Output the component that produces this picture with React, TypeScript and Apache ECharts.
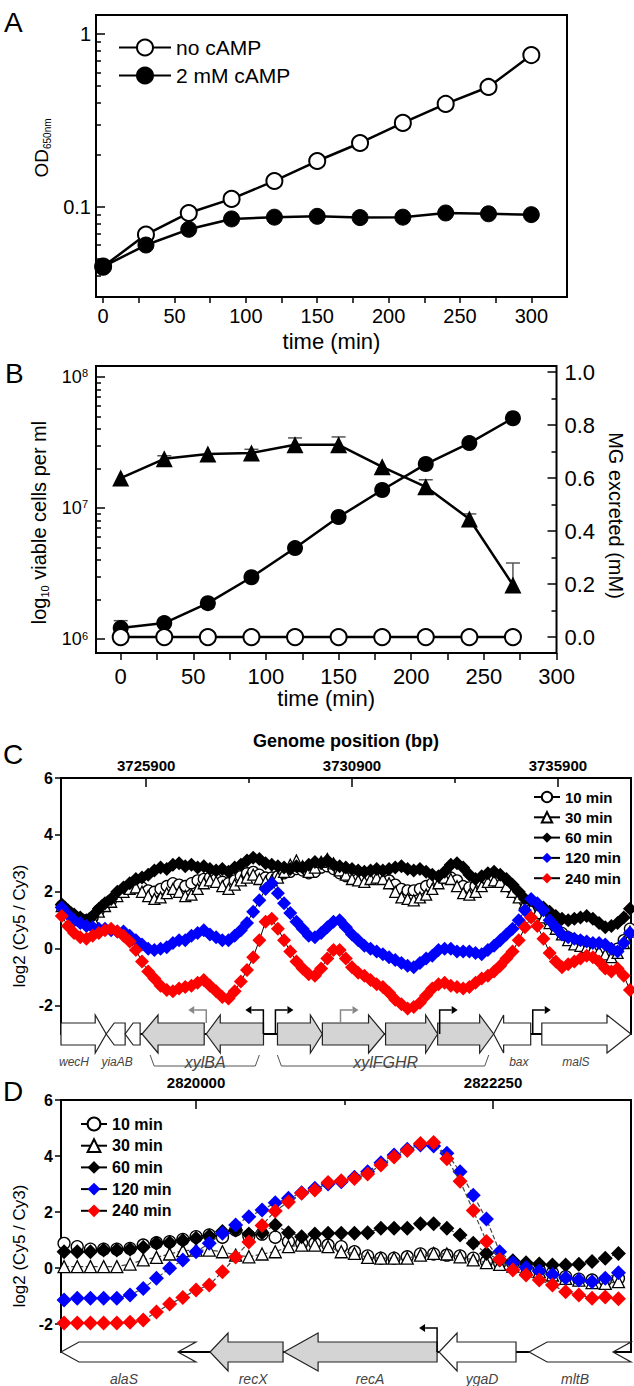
import { useEffect, useRef } from 'react';
import * as echarts from 'echarts';

const FONT = '"Liberation Sans", Arial, Helvetica, sans-serif';

// ---------------- Panel A ----------------
const timeA = [0, 30, 60, 90, 120, 150, 180, 210, 240, 270, 300];
const odNoCAMP = [0.045, 0.069, 0.092, 0.111, 0.141, 0.184, 0.234, 0.306, 0.394, 0.494, 0.756];
const odCAMP = [0.045, 0.06, 0.074, 0.085, 0.087, 0.088, 0.0865, 0.087, 0.092, 0.091, 0.09];
const timeLabels = [0, 50, 100, 150, 200, 250, 300];
const timeTicks = [0, 25, 50, 75, 100, 125, 150, 175, 200, 225, 250, 275, 300];
const odMajor = [0.1, 1];
const odMinor = [0.04, 0.05, 0.06, 0.07, 0.08, 0.09, 0.2, 0.3, 0.4, 0.5, 0.6, 0.7, 0.8, 0.9];

// ---------------- Panel B ----------------
const timeB = [0, 30, 60, 90, 120, 150, 180, 210, 240, 270];
const viableCells = [1.69e7, 2.37e7, 2.58e7, 2.63e7, 3.03e7, 3.03e7, 2.06e7, 1.45e7, 8.24e6, 2.58e6];
const viableCellsErrTop = [null, 2.5e7, null, 2.8e7, 3.42e7, 3.48e7, null, 1.64e7, 9.0e6, 3.8e6];
const mgFilled = [0.034, 0.053, 0.128, 0.226, 0.336, 0.453, 0.555, 0.653, 0.732, 0.826];
const mgFilledErrTop = [0.062, null, null, null, null, null, null, null, null, null];
const mgOpen = [0, 0, 0, 0, 0, 0, 0, 0, 0, 0];
const cellsMajor = [1e6, 1e7, 1e8];
const cellsMinor = [2e6, 3e6, 4e6, 5e6, 6e6, 7e6, 8e6, 9e6, 2e7, 3e7, 4e7, 5e7, 6e7, 7e7, 8e7, 9e7];
const mgMajor = [0, 0.2, 0.4, 0.6, 0.8, 1.0];
const mgMinor = [0.1, 0.3, 0.5, 0.7, 0.9];

// ---------------- Panel C ----------------
const seriesNames = ['10 min', '30 min', '60 min', '120 min', '240 min'];
const posC = [
  3723850, 3724000, 3724150, 3724300, 3724450, 3724600, 3724750, 3724900, 3725050, 3725200,
  3725350, 3725500, 3725650, 3725800, 3725950, 3726100, 3726250, 3726400, 3726550, 3726700,
  3726850, 3727000, 3727150, 3727300, 3727450, 3727600, 3727750, 3727900, 3728050, 3728200,
  3728350, 3728500, 3728650, 3728800, 3728950, 3729100, 3729250, 3729400, 3729550, 3729700,
  3729850, 3730000, 3730150, 3730300, 3730450, 3730600, 3730750, 3730900, 3731050, 3731200,
  3731350, 3731500, 3731650, 3731800, 3731950, 3732100, 3732250, 3732400, 3732550, 3732700,
  3732850, 3733000, 3733150, 3733300, 3733450, 3733600, 3733750, 3733900, 3734050, 3734200,
  3734350, 3734500, 3734650, 3734800, 3734950, 3735100, 3735250, 3735400, 3735550, 3735700,
  3735850, 3736000, 3736150, 3736300, 3736450, 3736600, 3736750, 3736900, 3737050, 3737200,
  3737350, 3737500, 3737650,
];
const c10 = [
  1.5, 1.3, 1.15, 1.05, 1.0, 1.1, 1.35, 1.55, 1.7, 1.9,
  2.05, 2.15, 2.2, 2.15, 2.05, 2.0, 2.1, 2.2, 2.3, 2.25,
  2.2, 2.3, 2.4, 2.45, 2.5, 2.45, 2.35, 2.3, 2.4, 2.55,
  2.65, 2.7, 2.6, 2.5, 2.5, 2.55, 2.65, 2.7, 2.8, 2.75,
  2.65, 2.7, 2.85, 2.9, 2.8, 2.65, 2.55, 2.5, 2.45, 2.45,
  2.5, 2.55, 2.5, 2.4, 2.25, 2.1, 2.05, 2.05, 2.1, 2.2,
  2.3, 2.4, 2.5, 2.5, 2.4, 2.2, 2.15, 2.2, 2.3, 2.4,
  2.45, 2.4, 2.3, 2.1, 1.9, 1.65, 1.45, 1.3, 1.15, 0.95,
  0.75, 0.55, 0.4, 0.3, 0.25, 0.2, 0.15, 0.05, -0.05, -0.1,
  0.0, 0.3, 0.7,
];
const c30 = [
  1.5, 1.3, 1.1, 1.0, 0.95, 1.05, 1.3, 1.5, 1.65, 1.85,
  2.0, 2.1, 2.15, 2.0, 1.85, 1.75, 1.8, 1.95, 2.1, 2.0,
  1.85, 1.9, 2.1, 2.3, 2.4, 2.35, 2.2, 2.1, 2.25, 2.4,
  2.5, 2.6, 2.45, 2.35, 2.4, 2.5, 2.7, 2.95, 3.1, 2.9,
  2.7, 2.85, 3.05, 3.15, 3.0, 2.75, 2.6, 2.45, 2.4, 2.35,
  2.45, 2.5, 2.45, 2.3, 2.0, 1.8, 1.75, 1.7, 1.8, 1.9,
  2.1, 2.3, 2.5, 2.45, 2.2, 1.95, 1.9, 2.0, 2.2, 2.35,
  2.4, 2.35, 2.2, 2.0, 1.8, 1.6, 1.4, 1.25, 1.1, 0.9,
  0.7, 0.5, 0.3, 0.15, 0.1, 0.05, 0.0, -0.1, -0.2, -0.3,
  -0.15, 0.2, 0.6,
];
const c60 = [
  1.55, 1.35, 1.2, 1.1, 1.0, 1.15, 1.4, 1.6, 1.75, 2.0,
  2.15, 2.3, 2.45, 2.5, 2.6, 2.75, 2.85, 2.8, 2.95, 3.0,
  2.9, 2.95, 2.85, 2.9, 2.8, 2.75, 2.8, 2.7, 2.85, 2.95,
  3.1, 3.2, 3.15, 3.0, 2.95, 2.9, 2.85, 2.8, 2.9, 2.85,
  2.95, 3.05, 3.0, 3.1, 2.95, 2.9, 2.85, 2.8, 2.75, 2.7,
  2.75, 2.8, 2.75, 2.8, 2.85, 2.9, 2.8, 2.75, 2.8, 2.7,
  2.6, 2.55, 2.7, 2.95, 3.0, 2.85, 2.6, 2.45, 2.55, 2.65,
  2.7, 2.6, 2.45, 2.25, 2.0, 1.75, 1.7, 1.55, 1.45, 1.3,
  1.15, 1.05, 1.0, 1.05, 1.1, 1.15, 1.05, 0.9, 0.75, 0.8,
  0.9, 1.1, 1.4,
];
const c120 = [
  1.45, 1.2, 1.0, 0.9, 0.8, 0.75, 0.7, 0.7, 0.65, 0.6,
  0.6, 0.45, 0.3, 0.15, 0.0, -0.05, 0.0, 0.05, 0.2, 0.3,
  0.3, 0.45, 0.55, 0.65, 0.5, 0.4, 0.3, 0.3, 0.45, 0.65,
  0.9, 1.3, 1.7, 2.1, 2.3, 1.95, 1.6, 1.25, 0.95, 0.7,
  0.45, 0.4, 0.55, 0.75, 0.95, 1.0, 0.75, 0.5, 0.3, 0.1,
  0.0, -0.1, -0.2, -0.3, -0.4, -0.5, -0.6, -0.65, -0.5, -0.35,
  -0.25, -0.05, 0.0, 0.0, -0.1, -0.1, -0.1, -0.15, -0.2, -0.05,
  0.1, 0.3, 0.5, 0.7, 1.0, 1.35, 1.75, 1.6, 1.35, 1.0,
  0.75, 0.5, 0.4, 0.35, 0.3, 0.25, 0.2, 0.2, 0.15, 0.0,
  -0.1, 0.2, 0.55,
];
const c240 = [
  1.15, 0.8, 0.55, 0.4, 0.35, 0.45, 0.55, 0.65, 0.7, 0.6,
  0.45, 0.25, -0.05, -0.45, -0.8, -1.05, -1.3, -1.45, -1.5, -1.4,
  -1.35, -1.3, -1.2, -1.1, -1.3, -1.5, -1.7, -1.75, -1.5, -1.15,
  -0.75, -0.3, 0.3, 0.95, 1.05, 0.7, 0.3, -0.1, -0.45, -0.7,
  -0.9, -0.95, -0.7, -0.35, -0.05, -0.05, -0.35, -0.65, -0.85, -0.95,
  -1.1, -1.25, -1.35, -1.55, -1.8, -1.95, -2.1, -2.05, -1.9, -1.65,
  -1.4, -1.25, -1.2, -1.3, -1.35, -1.4, -1.35, -1.2, -1.05, -0.95,
  -0.8, -0.6, -0.35, -0.1, 0.3, 0.75, 1.1, 0.8, 0.35, -0.15,
  -0.45, -0.65, -0.55, -0.45, -0.35, -0.25, -0.3, -0.45, -0.7, -0.8,
  -0.7, -0.95, -1.45,
];
const genomeLabelsC = [3725900, 3730900, 3735900];
const genomeMinorC = [3728400, 3733400];
const log2Labels = [-2, 0, 2, 4, 6];

const genesC = ['wecH', 'yiaA', 'yiaB', 'xylA', 'xylB', 'xylF', 'xylG', 'xylH', 'xylR', 'bax', 'malS'];
const genesCStart = [3723832, 3724930, 3725390, 3725800, 3727360, 3729090, 3730180, 3731715, 3732980, 3734340, 3735510];
const genesCEnd = [3724930, 3725390, 3725754, 3727310, 3728750, 3730180, 3731690, 3732980, 3734340, 3735240, 3737676];
const genesCStrand = [1, -1, -1, -1, -1, 1, 1, 1, 1, -1, 1];
const genesCShaded = [false, false, false, true, true, true, true, true, true, false, false];
const geneLabelsC = ['wecH', 'yiaAB', 'xylBA', 'xylFGHR', 'bax', 'malS'];
const geneLabelsCPos = [3724148, 3725194, 3727336, 3731715, 3734951, 3736338];
const operonsCStart = [3725997, 3729087];
const operonsCEnd = [3728649, 3734221];
const promotersC = [3727360, 3728747, 3729040, 3730620, 3733029, 3735290];
const promotersCStrand = [-1, -1, 1, 1, 1, 1];
const promotersCWeak = [true, false, false, true, false, false];

// ---------------- Panel D ----------------
const posD = [
  2819000, 2819100, 2819200, 2819300, 2819400, 2819500, 2819600, 2819700, 2819800, 2819900,
  2820000, 2820100, 2820200, 2820300, 2820400, 2820500, 2820600, 2820700, 2820800, 2820900,
  2821000, 2821100, 2821200, 2821300, 2821400, 2821500, 2821600, 2821700, 2821800, 2821900,
  2822000, 2822100, 2822200, 2822300, 2822400, 2822500, 2822600, 2822700, 2822800, 2822900,
  2823000, 2823100, 2823200,
];
const d10 = [
  0.88, 0.76, 0.67, 0.67, 0.67, 0.7, 0.82, 0.9, 0.94, 1.02,
  1.12, 1.18, 1.1, 1.36, 1.14, 1.21, 1.1, 0.94, 0.88, 0.88,
  0.82, 0.76, 0.58, 0.43, 0.35, 0.35, 0.4, 0.5, 0.5, 0.46,
  0.43, 0.35, 0.23, 0.17, 0.17, 0.07, -0.07, -0.17, -0.31, -0.4,
  -0.43, -0.45, -0.37,
];
const d30 = [
  0.05, 0.05, 0.05, 0.05, 0.05, 0.14, 0.29, 0.38, 0.5, 0.62,
  0.64, 0.64, 0.58, 0.46, 0.4, 0.5, 0.58, 0.76, 0.82, 0.82,
  0.76, 0.58, 0.52, 0.38, 0.35, 0.35, 0.35, 0.46, 0.52, 0.5,
  0.4, 0.29, 0.19, 0.13, 0.07, -0.01, -0.13, -0.25, -0.37, -0.43,
  -0.52, -0.55, -0.49,
];
const d60 = [
  0.58, 0.58, 0.58, 0.64, 0.64, 0.67, 0.74, 0.88, 0.9, 0.98,
  1.06, 1.14, 1.3, 1.36, 1.21, 1.26, 1.54, 1.26, 1.12, 1.21,
  1.24, 1.24, 1.24, 1.26, 1.42, 1.42, 1.42, 1.58, 1.58, 1.42,
  1.18, 0.88, 0.52, 0.29, 0.26, 0.19, 0.14, 0.11, 0.11, 0.13,
  0.23, 0.35, 0.52,
];
const d120 = [
  -1.14, -1.08, -1.08, -1.08, -1.08, -0.96, -0.73, -0.37, -0.01, 0.29,
  0.58, 0.88, 1.24, 1.54, 1.83, 2.07, 2.33, 2.49, 2.69, 2.85,
  3.0, 3.08, 3.24, 3.44, 3.76, 4.04, 4.24, 4.39, 4.36, 4.1,
  3.44, 2.6, 1.75, 0.58, 0.19, 0.02, -0.11, -0.23, -0.35, -0.43,
  -0.49, -0.37, -0.17,
];
const d240 = [
  -1.96, -1.96, -1.96, -1.96, -1.96, -1.94, -1.86, -1.57, -1.29, -1.05,
  -0.79, -0.61, -0.13, 0.39, 0.93, 1.52, 2.04, 2.36, 2.67, 2.79,
  3.05, 3.12, 3.2, 3.36, 3.68, 3.96, 4.2, 4.45, 4.48, 3.9,
  3.1, 2.05, 0.95, 0.3, -0.07, -0.25, -0.43, -0.61, -0.85, -0.96,
  -1.08, -1.04, -1.1,
];
const genomeLabelsD = [2820000, 2822250];
const genomeMinorD = [2821125];
const genesD = ['alaS', 'recX', 'recA', 'ygaD', 'mltB'];
const genesDStart = [2818977, 2820106, 2820667, 2821841, 2822523];
const genesDEnd = [2819999, 2820659, 2821826, 2822424, 2823295];
const genesDStrand = [-1, -1, -1, -1, -1];
const genesDShaded = [false, true, true, false, false];
const geneLabelsDPos = [2819454, 2820432, 2821318, 2822167, 2822871];
const promotersD = [2821826];
const promotersDStrand = [-1];
const promotersDWeak = [false];

// ---------------- styles ----------------
const geneStyleC = {
  head: [11, 8, 8, 16, 14, 12, 16, 12, 14, 10, 24],
  flare: [true, false, false, true, true, true, true, true, true, true, true],
  notch: [0, 0, 0, 0, 0, 0, 0, 0, 0, 0, 0],
  body: 11, headHalf: 19,
};
const geneStyleD = {
  head: [18, 18, 34, 18, 18],
  flare: [false, true, true, true, false],
  notch: [18, 0, 0, 0, 18],
  body: 10, headHalf: 19,
};

const txt = (size: number, extra: any = {}) => ({ fontFamily: FONT, fontSize: size, color: '#000', ...extra });
const tickLine = { color: '#000', width: 1.5 };
const num = (v: any) => String(parseFloat(Number(v).toPrecision(6)));

function geneSeries(xi: number, yi: number, base: number, starts: number[], ends: number[], strands: number[], shaded: boolean[], st: any) {
  return {
    type: 'custom', xAxisIndex: xi, yAxisIndex: yi, silent: true, z: 4, clip: false,
    data: starts.map((s, i) => [s, ends[i]]),
    renderItem: (params: any, api: any) => {
      const i = params.dataIndex;
      const a = api.coord([api.value(0), base]);
      const b = api.coord([api.value(1), base]);
      const yc = a[1], x1 = a[0], x2 = b[0];
      const bh = st.body;
      const hh = st.flare[i] ? st.headHalf : st.body;
      const head = Math.min(st.head[i], (x2 - x1) * 0.8);
      const notch = st.notch[i];
      let pts: number[][];
      if (strands[i] > 0) {
        const hb = x2 - head;
        pts = [[x1, yc - bh], [hb, yc - bh], [hb, yc - hh], [x2, yc], [hb, yc + hh], [hb, yc + bh], [x1, yc + bh]];
        if (notch) pts.push([x1 + notch, yc]);
      } else {
        const hb = x1 + head;
        pts = [[x2, yc - bh], [hb, yc - bh], [hb, yc - hh], [x1, yc], [hb, yc + hh], [hb, yc + bh], [x2, yc + bh]];
        if (notch) pts.push([x2 - notch, yc]);
      }
      return {
        type: 'polygon', shape: { points: pts },
        style: { fill: shaded[i] ? '#d4d4d4' : '#ffffff', stroke: '#222', lineWidth: 1.2 },
      };
    },
  };
}

function labelSeries(xi: number, yi: number, base: number, pos: number[], labels: string[], sizes: number[], dy: number) {
  return {
    type: 'custom', xAxisIndex: xi, yAxisIndex: yi, silent: true, z: 5, clip: false,
    data: pos.map((p) => [p, base]),
    renderItem: (params: any, api: any) => {
      const i = params.dataIndex;
      const p = api.coord([api.value(0), base]);
      return {
        type: 'text', x: p[0], y: p[1] + dy,
        style: {
          text: labels[i], fill: '#444', fontFamily: FONT, fontStyle: 'italic', fontSize: sizes[i],
          align: 'center', verticalAlign: 'middle',
        },
      };
    },
  };
}

function bracketSeries(xi: number, yi: number, base: number, starts: number[], ends: number[]) {
  return {
    type: 'custom', xAxisIndex: xi, yAxisIndex: yi, silent: true, z: 5, clip: false,
    data: starts.map((s, i) => [s, ends[i]]),
    renderItem: (params: any, api: any) => {
      const a = api.coord([api.value(0), base]);
      const b = api.coord([api.value(1), base]);
      const y0 = a[1] + 21, y1 = a[1] + 32;
      return {
        type: 'polyline',
        shape: { points: [[a[0], y0], [a[0] + 4, y1], [b[0] - 4, y1], [b[0], y0]] },
        style: { stroke: '#555', lineWidth: 1, fill: null },
      };
    },
  };
}

function promoterSeries(xi: number, yi: number, base: number, pos: number[], strands: number[], weak: boolean[], bodyHalf: number) {
  return {
    type: 'custom', xAxisIndex: xi, yAxisIndex: yi, silent: true, z: 5, clip: false,
    data: pos.map((p) => [p, base]),
    renderItem: (params: any, api: any) => {
      const i = params.dataIndex;
      const p = api.coord([api.value(0), base]);
      const dir = strands[i];
      const color = weak[i] ? '#888' : '#000';
      const yStart = weak[i] ? p[1] - bodyHalf : p[1];
      const yTop = p[1] - 24;
      const xEnd = p[0] + dir * 12;
      return {
        type: 'group',
        children: [
          { type: 'polyline', shape: { points: [[p[0], yStart], [p[0], yTop], [xEnd, yTop]] }, style: { stroke: color, lineWidth: 1.5, fill: null } },
          { type: 'polygon', shape: { points: [[xEnd + dir * 6, yTop], [xEnd, yTop - 4], [xEnd, yTop + 4]] }, style: { fill: color } },
        ],
      };
    },
  };
}

function errorSeries(xi: number, yi: number, xs: number[], ys: number[], tops: (number | null)[]) {
  const data = xs.map((x, i) => [x, ys[i], tops[i]]).filter((d) => d[2] != null);
  return {
    type: 'custom', xAxisIndex: xi, yAxisIndex: yi, silent: true, z: 1,
    data,
    renderItem: (params: any, api: any) => {
      const p0 = api.coord([api.value(0), api.value(1)]);
      const p1 = api.coord([api.value(0), api.value(2)]);
      return {
        type: 'group',
        children: [
          { type: 'line', shape: { x1: p0[0], y1: p0[1], x2: p1[0], y2: p1[1] }, style: { stroke: '#555', lineWidth: 1.5 } },
          { type: 'line', shape: { x1: p1[0] - 7, y1: p1[1], x2: p1[0] + 7, y2: p1[1] }, style: { stroke: '#555', lineWidth: 1.5 } },
        ],
      };
    },
  };
}

const symbolDefs = [
  { symbol: 'circle', color: '#fff', border: '#000' },
  { symbol: 'triangle', color: '#fff', border: '#000' },
  { symbol: 'diamond', color: '#000', border: '#000' },
  { symbol: 'diamond', color: '#0000ff', border: '#0000ff' },
  { symbol: 'diamond', color: '#ff0000', border: '#ff0000' },
];

function arraySeries(xi: number, yi: number, pos: number[], values: number[][], big: boolean) {
  return values.map((vals, k) => {
    const s = symbolDefs[k];
    const isDiamond = s.symbol === 'diamond';
    return {
      type: 'line', name: seriesNames[k], xAxisIndex: xi, yAxisIndex: yi,
      data: pos.map((p, i) => [p, vals[i]]),
      symbol: s.symbol,
      symbolSize: big ? (isDiamond ? 15 : 12) : (isDiamond ? 14 : 11),
      itemStyle: { color: s.color, borderColor: s.border, borderWidth: isDiamond ? 0 : 1.3 },
      lineStyle: big ? { color: '#444', width: 1.2, type: 'dashed' } : { color: '#000', width: 1 },
      z: 3 + k * 0.1,
    };
  });
}

function buildOption(): any {
  const grids = [
    { left: 96, top: 15, width: 471, height: 282 },
    { left: 96, top: 366, width: 471, height: 287 },
    { left: 61, top: 778, width: 570, height: 256 },
    { left: 61, top: 1100, width: 570, height: 252 },
  ].map((g) => ({ ...g, show: true, borderColor: '#000', borderWidth: 2, backgroundColor: 'transparent', containLabel: false }));

  const baseX = (gridIndex: number, extra: any) => ({
    type: 'value', gridIndex, axisLine: { show: false, onZero: false }, splitLine: { show: false }, ...extra,
  });
  const baseY = (gridIndex: number, extra: any) => ({
    gridIndex, axisLine: { show: false, onZero: false }, splitLine: { show: false }, ...extra,
  });

  const xAxis = [
    baseX(0, {
      min: -5, max: 325, position: 'bottom',
      axisTick: { show: true, inside: false, length: 6, lineStyle: tickLine, customValues: timeTicks },
      axisLabel: { show: true, margin: 9, customValues: timeLabels, formatter: num, ...txt(20) },
      name: 'time (min)', nameLocation: 'middle', nameGap: 33, nameTextStyle: txt(22),
    }),
    baseX(1, {
      min: -17, max: 300, position: 'bottom',
      axisTick: { show: true, inside: false, length: 7, lineStyle: tickLine, customValues: timeTicks },
      axisLabel: { show: true, margin: 12, customValues: timeLabels, formatter: num, ...txt(22) },
      name: 'time (min)', nameLocation: 'middle', nameGap: 32, nameTextStyle: txt(22),
    }),
    baseX(2, {
      min: 3723832, max: 3737676, position: 'top',
      axisTick: { show: true, inside: true, length: 9, lineStyle: tickLine, customValues: genomeLabelsC },
      axisLabel: { show: true, margin: 5, customValues: genomeLabelsC, formatter: num, ...txt(15, { fontWeight: 'bold' }) },
      name: 'Genome position (bp)', nameLocation: 'middle', nameGap: 28, nameTextStyle: txt(18, { fontWeight: 'bold' }),
    }),
    baseX(2, {
      min: 3723832, max: 3737676, position: 'top',
      axisTick: { show: true, inside: true, length: 5, lineStyle: tickLine, customValues: genomeMinorC },
      axisLabel: { show: false },
    }),
    baseX(3, {
      min: 2818977, max: 2823295, position: 'top',
      axisTick: { show: true, inside: true, length: 9, lineStyle: tickLine, customValues: genomeLabelsD },
      axisLabel: { show: true, margin: 10, customValues: genomeLabelsD, formatter: num, ...txt(15, { fontWeight: 'bold' }) },
    }),
    baseX(3, {
      min: 2818977, max: 2823295, position: 'top',
      axisTick: { show: true, inside: true, length: 5, lineStyle: tickLine, customValues: genomeMinorD },
      axisLabel: { show: false },
    }),
  ];

  const log2Axis = (gridIndex: number) => baseY(gridIndex, {
    type: 'value', min: -3, max: 6, position: 'left',
    axisTick: { show: true, inside: false, length: 6, lineStyle: tickLine, customValues: log2Labels },
    axisLabel: { show: true, margin: 8, customValues: log2Labels, formatter: num, ...txt(16, { fontWeight: 'bold' }) },
    name: 'log2 (Cy5 / Cy3)', nameLocation: 'middle', nameRotate: 90, nameGap: 33,
    nameTextStyle: txt(17, { padding: [0, 40, 0, 0] }),
  });

  const yAxis = [
    baseY(0, {
      type: 'log', logBase: 10, min: 0.03, max: 1.29, position: 'left',
      axisTick: { show: true, inside: true, length: 9, lineStyle: tickLine, customValues: odMajor },
      axisLabel: { show: true, margin: 5, customValues: odMajor, formatter: num, ...txt(20) },
      name: '{a|OD}{b|650nm}', nameLocation: 'middle', nameRotate: 90, nameGap: 31,
      nameTextStyle: {
        padding: [0, 0, 0, 16],
        rich: {
          a: { fontFamily: FONT, fontSize: 19, color: '#000', lineHeight: 22 },
          b: { fontFamily: FONT, fontSize: 10, color: '#000', lineHeight: 10, verticalAlign: 'bottom' },
        },
      },
    }),
    baseY(0, {
      type: 'log', logBase: 10, min: 0.03, max: 1.29, position: 'left',
      axisTick: { show: true, inside: true, length: 5, lineStyle: tickLine, customValues: odMinor },
      axisLabel: { show: false },
    }),
    baseY(1, {
      type: 'log', logBase: 10, min: 7.82e5, max: 1.21e8, position: 'left',
      axisTick: { show: true, inside: true, length: 9, lineStyle: tickLine, customValues: cellsMajor },
      axisLabel: {
        show: true, margin: 8, customValues: cellsMajor,
        formatter: (v: any) => `{b|10}{s|${Math.round(Math.log10(Number(v)))}}`,
        rich: {
          b: { fontFamily: FONT, fontSize: 18, color: '#000', lineHeight: 18, verticalAlign: 'bottom' },
          s: { fontFamily: FONT, fontSize: 11, color: '#000', lineHeight: 11, verticalAlign: 'top', padding: [0, 0, 19, 0] },
        },
      },
      name: '{n|log}{s|10}{n| viable cells per ml}', nameLocation: 'middle', nameRotate: 90, nameGap: 38,
      nameTextStyle: {
        padding: [0, 26, 0, 0],
        rich: {
          n: { fontFamily: FONT, fontSize: 20, color: '#000', lineHeight: 24 },
          s: { fontFamily: FONT, fontSize: 11, color: '#000', lineHeight: 11, verticalAlign: 'bottom' },
        },
      },
    }),
    baseY(1, {
      type: 'log', logBase: 10, min: 7.82e5, max: 1.21e8, position: 'left',
      axisTick: { show: true, inside: true, length: 5, lineStyle: tickLine, customValues: cellsMinor },
      axisLabel: { show: false },
    }),
    baseY(1, {
      type: 'value', min: -0.06, max: 1.023, position: 'right',
      axisTick: { show: true, inside: true, length: 9, lineStyle: tickLine, customValues: mgMajor },
      axisLabel: { show: true, margin: 8, customValues: mgMajor, formatter: (v: any) => Number(v).toFixed(1), ...txt(22) },
      name: 'MG excreted (mM)', nameLocation: 'middle', nameRotate: -90, nameGap: 47,
      nameTextStyle: txt(20, { padding: [0, 0, 0, 12] }),
    }),
    baseY(1, {
      type: 'value', min: -0.06, max: 1.023, position: 'right',
      axisTick: { show: true, inside: true, length: 5, lineStyle: tickLine, customValues: mgMinor },
      axisLabel: { show: false },
    }),
    log2Axis(2),
    log2Axis(3),
  ];

  const series: any[] = [
    {
      type: 'line', name: 'no cAMP', xAxisIndex: 0, yAxisIndex: 0,
      data: timeA.map((t, i) => [t, odNoCAMP[i]]),
      symbol: 'circle', symbolSize: 16,
      itemStyle: { color: '#fff', borderColor: '#000', borderWidth: 2 },
      lineStyle: { color: '#000', width: 2.5 }, z: 3,
    },
    {
      type: 'line', name: '2 mM cAMP', xAxisIndex: 0, yAxisIndex: 0,
      data: timeA.map((t, i) => [t, odCAMP[i]]),
      symbol: 'circle', symbolSize: 16,
      itemStyle: { color: '#000', borderColor: '#000', borderWidth: 1 },
      lineStyle: { color: '#000', width: 2.5 }, z: 3,
    },
    errorSeries(1, 2, timeB, viableCells, viableCellsErrTop),
    errorSeries(1, 4, timeB, mgFilled, mgFilledErrTop),
    {
      type: 'line', name: 'viable cells', xAxisIndex: 1, yAxisIndex: 2,
      data: timeB.map((t, i) => [t, viableCells[i]]),
      symbol: 'triangle', symbolSize: 17,
      itemStyle: { color: '#000' }, lineStyle: { color: '#000', width: 2.5 }, z: 3,
    },
    {
      type: 'line', name: 'MG excreted', xAxisIndex: 1, yAxisIndex: 4,
      data: timeB.map((t, i) => [t, mgFilled[i]]),
      symbol: 'circle', symbolSize: 16,
      itemStyle: { color: '#000' }, lineStyle: { color: '#000', width: 2.5 }, z: 3,
    },
    {
      type: 'line', name: 'MG excreted (control)', xAxisIndex: 1, yAxisIndex: 4,
      data: timeB.map((t, i) => [t, mgOpen[i]]),
      symbol: 'circle', symbolSize: 16,
      itemStyle: { color: '#fff', borderColor: '#000', borderWidth: 2 }, lineStyle: { color: '#000', width: 2.5 }, z: 3,
    },
    ...arraySeries(2, 6, posC, [c10, c30, c60, c120, c240], false),
    geneSeries(2, 6, -3, genesCStart, genesCEnd, genesCStrand, genesCShaded, geneStyleC),
    promoterSeries(2, 6, -3, promotersC, promotersCStrand, promotersCWeak, 11),
    bracketSeries(2, 6, -3, operonsCStart, operonsCEnd),
    labelSeries(2, 6, -3, geneLabelsCPos, geneLabelsC, [12, 12, 16, 16, 12, 12], 28),
    ...arraySeries(4, 7, posD, [d10, d30, d60, d120, d240], true),
    geneSeries(4, 7, -3, genesDStart, genesDEnd, genesDStrand, genesDShaded, geneStyleD),
    promoterSeries(4, 7, -3, promotersD, promotersDStrand, promotersDWeak, 10),
    labelSeries(4, 7, -3, geneLabelsDPos, genesD, [14, 14, 14, 14, 14], 27),
  ];

  const legend = [
    {
      orient: 'vertical', left: 113, top: 32, itemWidth: 52, itemHeight: 20, itemGap: 7, selectedMode: false,
      textStyle: txt(21, { lineHeight: 20 }), data: ['no cAMP', '2 mM cAMP'],
    },
    {
      orient: 'vertical', left: 528, top: 783, itemWidth: 26, itemHeight: 13, itemGap: 2.3, selectedMode: false,
      textStyle: txt(15, { fontWeight: 'bold', lineHeight: 18 }), data: seriesNames,
    },
    {
      orient: 'vertical', left: 75, top: 1110, itemWidth: 26, itemHeight: 16, itemGap: 3.7, selectedMode: false,
      textStyle: txt(16, { fontWeight: 'bold', lineHeight: 18 }), data: seriesNames,
    },
  ];

  const panelLabel = (t: string, left: number, top: number) => ({
    type: 'text', left, top, style: { text: t, fontFamily: FONT, fontSize: 28, fill: '#000' },
  });

  return {
    animation: false,
    backgroundColor: '#fff',
    grid: grids,
    xAxis,
    yAxis,
    series,
    legend,
    graphic: [panelLabel('A', 4, 8), panelLabel('B', 5, 359), panelLabel('C', 3, 740), panelLabel('D', 3, 1077)],
  };
}

export default function App() {
  const ref = useRef<HTMLDivElement>(null);
  useEffect(() => {
    const chart = echarts.init(ref.current as HTMLDivElement, null, { renderer: 'svg' });
    chart.setOption(buildOption());
    return () => chart.dispose();
  }, []);
  return <div ref={ref} style={{ position: 'absolute', left: 0, top: 0, width: 634, height: 1386 }} />;
}
